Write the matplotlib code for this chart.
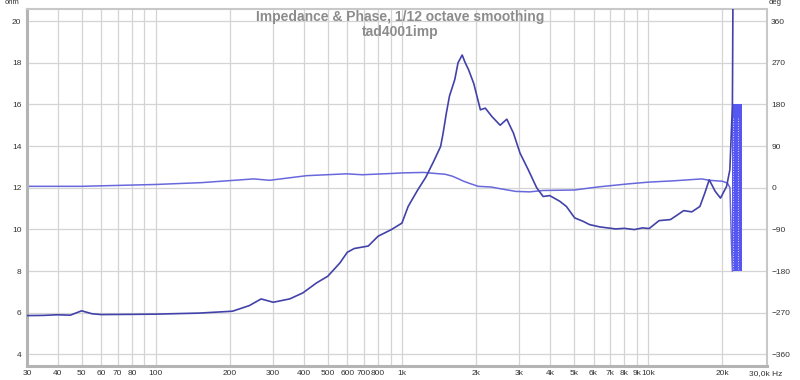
import matplotlib
matplotlib.use("Agg")
import matplotlib.pyplot as plt

# impedance (ohm)
imp_freq = [30, 35, 40, 45, 50, 55, 60, 80, 100, 150, 205, 240, 268, 300, 350,
            396, 450, 500, 560, 600, 640, 730, 800, 906, 1000, 1060, 1160, 1250,
            1350, 1436, 1470, 1515, 1560, 1640, 1690, 1757, 1800, 1867, 1958,
            2083, 2181, 2319, 2506, 2667, 2838, 3018, 3260, 3526, 3745, 3985,
            4375, 4656, 5032, 5434, 5780, 6348, 7393, 7997, 8786, 9483, 10100,
            11080, 12330, 13950, 15050, 16230, 17000, 17710, 18720, 19680,
            20840, 21480, 22000, 22300]
imp_ohm = [5.86, 5.87, 5.9, 5.88, 6.09, 5.95, 5.91, 5.92, 5.93, 5.98, 6.07,
           6.34, 6.66, 6.5, 6.66, 6.95, 7.43, 7.75, 8.39, 8.9, 9.08, 9.2, 9.67,
           9.99, 10.3, 11.1, 11.9, 12.5, 13.3, 13.98, 14.62, 15.58, 16.4, 17.2,
           18.0, 18.37, 18.05, 17.65, 17.0, 15.74, 15.82, 15.42, 15.0, 15.29,
           14.62, 13.66, 12.86, 12.0, 11.58, 11.62, 11.35, 11.1, 10.55, 10.39,
           10.23, 10.12, 10.02, 10.05, 9.99, 10.07, 10.04, 10.42, 10.47, 10.9,
           10.84, 11.1, 11.75, 12.38, 11.83, 11.5, 12.07, 12.86, 16.0, 30.0]

# phase (deg)
ph_freq = [30, 50, 100, 154, 250, 290, 410, 595, 690, 930, 1000, 1227, 1350,
           1500, 1600, 1700, 1780, 1867, 2040, 2300, 2560, 2900, 3300, 3745,
           5000, 6348, 8200, 10000, 12800, 16500, 17700, 20000, 21000, 21500,
           21800, 22000]
ph_deg = [3, 3, 7, 11, 19, 16, 26, 30, 28, 31, 32, 33, 31, 29, 25, 19, 14, 10,
          3, 1.5, -3, -8, -9, -6, -5, 2, 8, 12, 15, 19, 16, 14, 10, 0, -120,
          -180]

# wrapped-phase block at the top end
wrap_freq = [21900, 24000]
wrap_lo = [-180, -180]
wrap_hi = [180, 180]
wrap_gaps = [22100, 23200]

grid_freqs = [30, 40, 50, 60, 70, 80, 90, 100, 200, 300, 400, 500, 600, 700,
              800, 900, 1000, 2000, 3000, 4000, 5000, 6000, 7000, 8000, 9000,
              10000, 20000]
label_freqs = [30, 40, 50, 60, 70, 80, 100, 200, 300, 400, 500, 600, 700, 800,
               1000, 2000, 3000, 4000, 5000, 6000, 7000, 8000, 9000, 10000,
               20000, 30000]
label_text = ["30", "40", "50", "60", "70", "80", "100", "200", "300", "400",
              "500", "600", "700", "800", "1k", "2k", "3k", "4k", "5k", "6k",
              "7k", "8k", "9k", "10k", "20k", "30,0k Hz"]
ohm_ticks = [4, 6, 8, 10, 12, 14, 16, 18, 20]
deg_ticks = [-360, -270, -180, -90, 0, 90, 180, 270, 360]

plt.rcParams["font.family"] = ["Liberation Sans", "DejaVu Sans"]

fig = plt.figure(figsize=(8, 3.8), dpi=100)
ax = fig.add_axes([27 / 800, 14 / 380, 740 / 800, 357 / 380])
ax.set_xscale("log")
ax.set_xlim(30, 30400)
ax.set_ylim(3.44, 20.58)

ax.xaxis.set_major_locator(matplotlib.ticker.FixedLocator(label_freqs))
ax.xaxis.set_minor_locator(matplotlib.ticker.NullLocator())
ax.set_xticklabels(label_text)
ax.set_yticks(ohm_ticks)
ax.tick_params(axis="both", length=0, labelsize=6, colors="#333333")
ax.tick_params(axis="x", pad=3)
ax.tick_params(axis="y", pad=4)

ax2 = ax.twinx()
ax2.set_ylim(-385.2, 386.1)
ax2.set_yticks(deg_ticks)
ax2.tick_params(axis="y", length=0, labelsize=6, colors="#333333", pad=3)

# grid on the back axes so the phase block covers it
for f in grid_freqs:
    ax2.axvline(f, color="#d4d4d4", lw=0.9, zorder=0)
for v in deg_ticks:
    ax2.axhline(v, color="#d4d4d4", lw=0.9, zorder=0)

ax2.fill_between(wrap_freq, wrap_lo, wrap_hi, color="#5656f0", lw=0, zorder=2)
for f in wrap_gaps:
    ax2.plot([f, f], [-175, 150], color="white", lw=0.6, ls=(0, (1, 2)), zorder=3)
ax2.plot(ph_freq, ph_deg, color="#6868dc", lw=1.1, zorder=3)
ax.plot(imp_freq, imp_ohm, color="#4242aa", lw=1.2, zorder=4)
ax.set_zorder(ax2.get_zorder() + 1)
ax.patch.set_visible(False)

for s in ["left", "bottom"]:
    ax.spines[s].set_color("#b4b4b4")
    ax.spines[s].set_linewidth(2.2)
for s in ["top", "right"]:
    ax.spines[s].set_color("#c8c8c8")
    ax.spines[s].set_linewidth(1.5)
for s in ax2.spines.values():
    s.set_visible(False)

fig.text(12 / 800, 1 - 3 / 380, "ohm", fontsize=5.5, color="#333333",
         ha="center", va="center")
fig.text(775 / 800, 1 - 3 / 380, "deg", fontsize=5.5, color="#333333",
         ha="center", va="center")
fig.text(400 / 800, 1 - 17 / 380, "Impedance & Phase, 1/12 octave smoothing",
         fontsize=10, fontweight="bold", color="#8c8c8c", ha="center", va="center")
fig.text(400 / 800, 1 - 32 / 380, "tad4001imp", fontsize=10,
         fontweight="bold", color="#8c8c8c", ha="center", va="center")

fig.savefig("out.png", dpi=100, facecolor="white")
